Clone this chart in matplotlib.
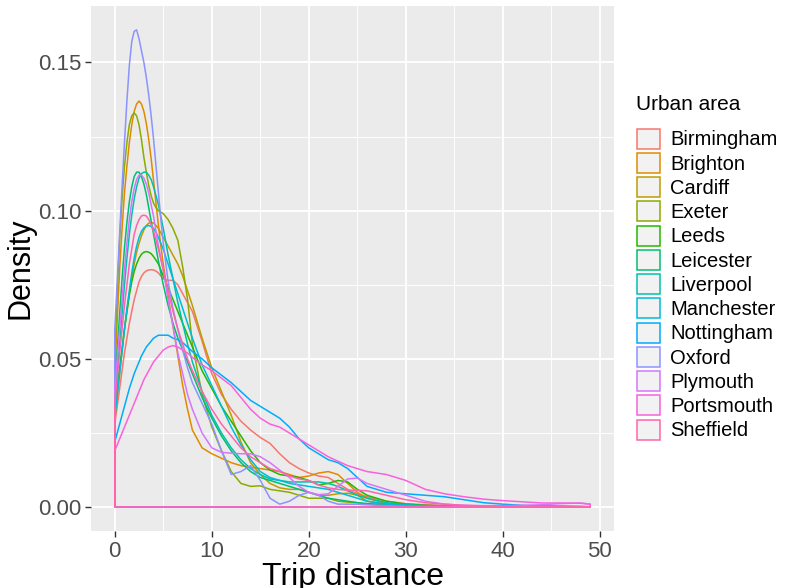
import numpy as np
import matplotlib
matplotlib.use("Agg")
import matplotlib.pyplot as plt
from matplotlib.patches import Patch
from matplotlib.ticker import MultipleLocator, FormatStrFormatter

plt.rcParams['font.family'] = ['Liberation Sans', 'DejaVu Sans']

# trip distance grid (x) and density (in thousandths)
dist = [0, 0.25, 0.5, 0.75, 1, 1.25, 1.5, 1.75, 2, 2.25, 2.5, 2.75, 3, 3.25, 3.5, 3.75, 4,
        4.25, 4.5, 4.75, 5,
        5.5, 6, 6.5, 7, 7.5, 8,
        9, 10, 11, 12, 13, 14, 15, 16, 17, 18, 19, 20, 21, 22, 23, 24, 25, 26,
        28, 30, 32, 34, 36, 38, 40, 42, 44, 46, 48, 49]

areas = ["Birmingham", "Brighton", "Cardiff", "Exeter", "Leeds", "Leicester",
         "Liverpool", "Manchester", "Nottingham", "Oxford", "Plymouth",
         "Portsmouth", "Sheffield"]

birmingham = [28, 34, 40, 46, 52, 57, 62, 66, 70, 73, 76, 77.8, 79, 79.7, 80, 80.1, 80,
              79.6, 79, 78, 77,
              76.5, 76.5, 75, 72, 69, 66,
              56, 45, 38, 33, 29, 26, 23.5, 21.5, 18, 15, 13, 11.5, 10.5, 10, 8, 6, 4.5, 3.5,
              2, 1.2, 0.8, 0.6, 0.5, 0.4, 0.3, 0.3, 0.2, 0.2, 0.2, 0.1]
brighton = [45, 63, 80, 94, 106, 115, 123, 129, 133.5, 136, 137, 136, 133.5, 129.5, 124, 117.5, 110,
            102.5, 95, 88, 82,
            71, 61, 51, 41, 33, 26,
            20, 18, 16.5, 15, 14, 13.5, 13, 12.5, 12, 11, 10, 10.5, 11.5, 12, 11, 8, 5, 3,
            1.2, 0.6, 0.4, 0.3, 0.3, 0.2, 0.2, 0.2, 0.2, 0.2, 0.2, 0.1]
cardiff = [30, 37.5, 45, 52.5, 60, 66, 72, 77, 82, 86, 89, 91.5, 93.5, 95, 95.8, 96, 95.8,
           95, 94, 92.5, 91,
           88, 85, 82, 78, 73, 68,
           57, 47, 39, 31, 22, 15, 11, 8, 6.5, 6, 6, 5, 4, 4, 4.5, 4.7, 4, 2,
           1, 0.6, 0.4, 0.3, 0.3, 0.2, 0.2, 0.2, 0.2, 0.2, 0.1, 0.1]
exeter = [50, 72, 90, 104, 115, 123, 129, 132, 133, 132, 129, 124, 118, 113, 108.5, 105, 102.5,
          101, 100, 99.5, 99,
          97, 94, 90, 81, 70, 55,
          38, 27, 19, 12, 8, 7, 7.2, 6, 5.5, 5, 4, 3, 3, 3, 2, 1.7, 1.5, 1,
          0.8, 0.6, 0.4, 0.3, 0.3, 0.2, 0.2, 0.2, 0.2, 0.1, 0.1, 0.1]
leeds = [35, 41, 47, 53.5, 60, 66, 71.5, 76, 79.5, 82, 84, 85.3, 86, 86.2, 86, 85.5, 84.5,
         83.3, 82, 80, 78,
         74, 70, 66, 62, 58, 54,
         46, 40, 34, 29, 24, 19, 15, 12.5, 11, 10.5, 10, 9, 7.5, 8, 9, 8.5, 6, 4,
         2, 1, 0.6, 0.4, 0.3, 0.2, 0.2, 0.2, 0.1, 0.1, 0.1, 0.1]
leicester = [40, 53, 65, 77, 87.5, 96, 103, 108, 111.5, 113, 113, 111.5, 109, 105.5, 101, 96.5, 92,
             87.5, 83, 79, 75,
             68, 62, 57, 53, 49, 45,
             37, 30, 24, 19, 15, 12, 10, 9, 8, 7, 6, 5, 4, 3, 2.5, 2, 1.5, 1.2,
             0.8, 0.5, 0.4, 0.3, 0.2, 0.2, 0.2, 0.1, 0.1, 0.1, 0.1, 0.1]
liverpool = [35, 45, 55, 65, 75, 84, 92, 98.5, 104, 108, 111, 112.5, 113, 113, 112, 110.5, 108,
             105, 102, 98, 94,
             85, 77, 69, 62, 55, 49,
             39, 31, 25, 20, 16, 13, 11, 9.5, 9, 8.5, 8.5, 8.5, 8.5, 8, 7, 5.5, 4, 3,
             1.5, 0.8, 0.5, 0.4, 0.3, 0.2, 0.2, 0.2, 0.1, 0.1, 0.1, 0.1]
manchester = [30, 37.5, 45, 52.5, 60, 67, 73, 79, 84, 88, 91, 93, 94.2, 94.8, 95, 94.7, 94,
              92.7, 91, 89, 87,
              82, 77, 72, 67, 62, 57,
              48, 41, 34, 27, 21, 16, 12, 10, 9, 8, 7.5, 7, 6.5, 6, 5, 4, 3, 2,
              1, 0.6, 0.4, 0.3, 0.3, 0.2, 0.2, 0.2, 0.1, 0.1, 0.1, 0.1]
nottingham = [22, 25, 28, 31, 34, 37, 40, 42.5, 45, 47, 49, 51, 52.5, 54, 55, 56, 57,
              57.5, 58, 58, 58,
              58, 57, 56.5, 55.5, 54, 52.5,
              50, 47, 44.5, 42, 39, 36, 34, 32, 30, 27, 23, 20, 18, 16, 15, 13, 10, 7,
              5, 4.5, 4, 3.5, 2.5, 1.5, 1, 0.6, 0.4, 0.3, 0.2, 0.1]
oxford = [60, 76, 92, 108, 123, 137, 149, 157, 160.5, 161, 158, 154, 150, 145, 139, 132, 124,
          115, 106, 97, 89,
          76, 67, 60, 53, 47, 42,
          35, 28, 19, 11, 12, 14, 9, 3, 1, 2, 4, 5, 4, 2, 1, 1, 1, 0.8,
          0.5, 0.3, 0.2, 0.2, 0.1, 0.1, 0.1, 0.1, 0.1, 0.1, 0.1, 0.1]
plymouth = [40, 50, 60, 70, 80, 89, 97, 103, 107.5, 110.5, 112, 112, 111, 109, 106, 102, 98,
            93, 88, 84, 80,
            70, 61, 52, 45, 38, 33,
            25, 20, 18.5, 18.2, 18, 18, 17, 15, 12.5, 10, 7, 5, 4.2, 4.5, 7, 9.5, 9.8, 8,
            6, 4, 2, 1, 0.6, 0.5, 0.5, 0.6, 0.8, 1.2, 1.4, 1]
portsmouth = [19, 21, 23, 25, 27, 29, 31, 33, 35, 37, 39, 41, 43, 44.5, 46, 47.5, 49,
              50, 51, 52, 53,
              54, 54.5, 54, 53, 52, 50.5,
              48, 46, 43.5, 41, 37, 33, 30, 28, 27, 25, 23, 21, 19, 17, 15.5, 14, 13, 12,
              11, 9, 6, 4.5, 3.5, 2.7, 2.2, 1.8, 1.4, 1.4, 1.3, 1]
sheffield = [35, 43.5, 52, 60, 68, 75, 82, 87, 92, 95, 97, 98.2, 98.5, 98.2, 97, 95.3, 93,
             90, 87, 83.5, 80,
             73, 66, 60, 55, 50, 46,
             39, 33, 28, 24, 20, 17, 15, 13, 12, 10.5, 9.5, 9, 7.5, 6.5, 6, 5.7, 5.7, 5.5,
             4, 2.5, 1.5, 1, 0.6, 0.4, 0.3, 0.2, 0.2, 0.2, 0.1, 0.1]

series = [birmingham, brighton, cardiff, exeter, leeds, leicester, liverpool,
          manchester, nottingham, oxford, plymouth, portsmouth, sheffield]

# ggplot default hue palette for 13 groups
colors = ["#F8766D", "#E18A00", "#BE9C00", "#8CAB00", "#24B700", "#00BE70",
          "#00C1AB", "#00BBDA", "#00ACFC", "#8B93FF", "#D575FE", "#F962DD", "#FF65AC"]

fig = plt.figure(figsize=(7.85, 5.88), dpi=100)
ax = fig.add_axes([91 / 785, 1 - 531 / 588, (614 - 91) / 785, (531 - 6) / 588])
ax.set_facecolor("#EBEBEB")

x = np.array(dist)
ymax = 0
for name, vals, c in zip(areas, series, colors):
    y = np.array(vals) / 1000.0
    ymax = max(ymax, y.max())
    # closed outline like geom_density: baseline, left edge, curve, right edge
    px = np.concatenate([[x[0]], x, [x[-1], x[0]]])
    py = np.concatenate([[0], y, [0, 0]])
    ax.plot(px, py, color=c, lw=1.1, solid_joinstyle="round", zorder=3)

xpad = 0.05 * (x[-1] - x[0])
ax.set_xlim(x[0] - xpad, x[-1] + xpad)
ax.set_ylim(-0.05 * ymax, ymax * 1.05)

ax.xaxis.set_major_locator(MultipleLocator(10))
ax.xaxis.set_minor_locator(MultipleLocator(5))
ax.yaxis.set_major_locator(MultipleLocator(0.05))
ax.yaxis.set_minor_locator(MultipleLocator(0.025))
ax.yaxis.set_major_formatter(FormatStrFormatter("%.2f"))
ax.grid(which="major", color="white", lw=1.3)
ax.grid(which="minor", color="white", lw=0.65)
ax.set_axisbelow(True)
for s in ax.spines.values():
    s.set_visible(False)
ax.tick_params(which="major", length=4, width=1.0, color="#333333",
               labelcolor="#4D4D4D", labelsize=16, pad=3)
ax.tick_params(which="minor", length=0)

ax.set_xlabel("Trip distance", fontsize=23, labelpad=0)
ax.set_ylabel("Density", fontsize=22, labelpad=2)

handles = [Patch(facecolor="#F2F2F2", edgecolor=c, lw=1.1) for c in colors]
leg = fig.legend(handles, areas, loc="center left",
                 bbox_to_anchor=(637 / 785, 1 - 284.5 / 588), frameon=False,
                 fontsize=14.5, handlelength=1.15, handleheight=1.15,
                 labelspacing=0.17, handletextpad=0.5, borderpad=0, borderaxespad=0)
fig.text(636 / 785, 1 - 105 / 588, "Urban area", fontsize=15, va="center", ha="left")

fig.patch.set_facecolor("white")
fig.savefig("out.png", dpi=100)
